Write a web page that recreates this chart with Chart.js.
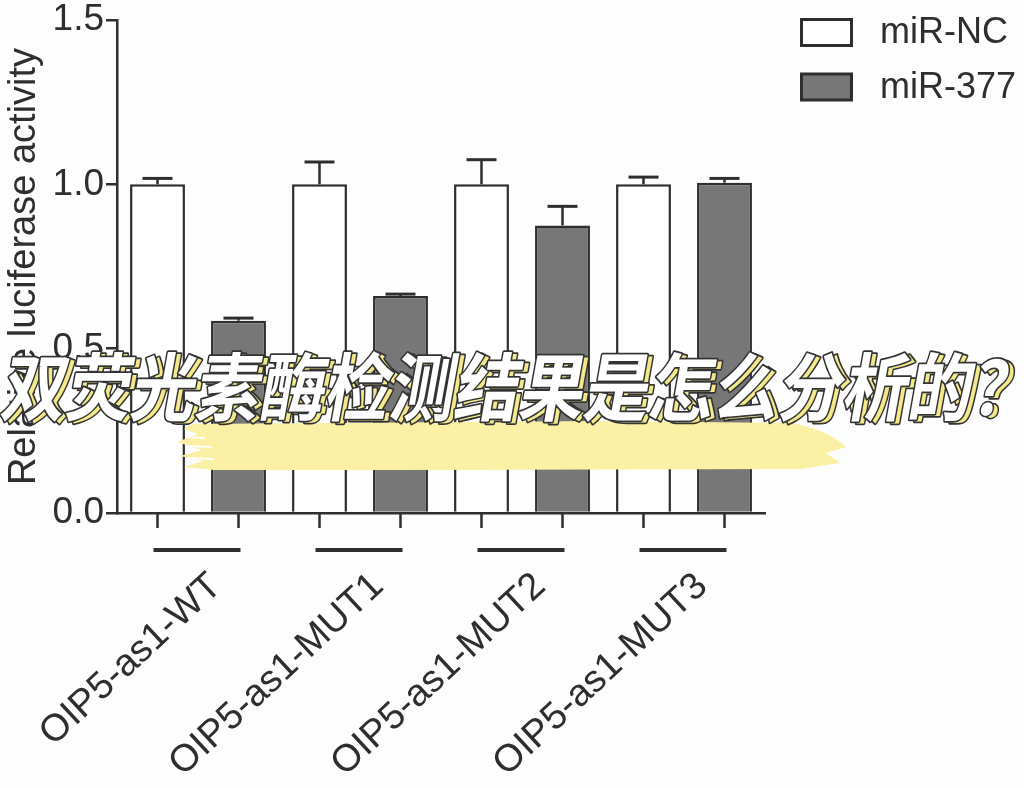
<!DOCTYPE html>
<html>
<head>
<meta charset="utf-8">
<script src="https://cdn.jsdelivr.net/npm/chart.js@4.4.1/dist/chart.umd.min.js"></script>
<style>
html,body{margin:0;padding:0;background:#fdfdfd;}
#wrap{width:1024px;height:788px;position:relative;overflow:hidden;}
canvas{display:block;}
</style>
</head>
<body>
<div id="wrap"><canvas id="c" width="1024" height="788"></canvas></div>
<script>
// ---- data ----
const groups = ['OIP5-as1-WT', 'OIP5-as1-MUT1', 'OIP5-as1-MUT2', 'OIP5-as1-MUT3'];
const seriesNames = ['miR-NC', 'miR-377'];
const ncValues = [1.0, 1.0, 1.0, 1.0];
const ncErrors = [0.018, 0.068, 0.075, 0.022];
const mirValues = [0.585, 0.66, 0.875, 1.005];
const mirErrors = [0.008, 0.006, 0.058, 0.013];
const yTicks = [0, 0.5, 1.0, 1.5];
const yTitle = 'Relative luciferase activity';
const overlayTitle = '双荧光素酶检测结果是怎么分析的？';

const INK = '#2e2e2e';
const GRAY = '#777777';
const FONT = '"Liberation Sans", Arial, Helvetica, sans-serif';

const bgPlugin = {
  id: 'bg',
  beforeDraw(chart) {
    const ctx = chart.ctx;
    ctx.save();
    ctx.fillStyle = '#fdfdfd';
    ctx.fillRect(0, 0, chart.width, chart.height);
    ctx.restore();
  }
};

const errorPlugin = {
  id: 'errs',
  afterDatasetsDraw(chart) {
    const ctx = chart.ctx;
    const y = chart.scales.y;
    const base = chart.chartArea.bottom;
    const errs = [ncErrors, mirErrors];
    ctx.save();
    ctx.strokeStyle = INK;
    ctx.lineCap = 'butt';
    chart.data.datasets.forEach((ds, di) => {
      const meta = chart.getDatasetMeta(di);
      meta.data.forEach((bar, i) => {
        const top = y.getPixelForValue(ds.data[i] + errs[di][i]);
        ctx.lineWidth = 2.5;
        ctx.beginPath();
        ctx.moveTo(bar.x, bar.y);
        ctx.lineTo(bar.x, top);
        ctx.stroke();
        ctx.lineWidth = 3;
        ctx.beginPath();
        ctx.moveTo(bar.x - 15, top);
        ctx.lineTo(bar.x + 15, top);
        ctx.stroke();
        // tick mark under each bar
        ctx.lineWidth = 2.5;
        ctx.beginPath();
        ctx.moveTo(bar.x, base);
        ctx.lineTo(bar.x, base + 15);
        ctx.stroke();
      });
    });
    // group underline
    const m0 = chart.getDatasetMeta(0), m1 = chart.getDatasetMeta(1);
    ctx.lineWidth = 4;
    m0.data.forEach((bar, i) => {
      ctx.beginPath();
      ctx.moveTo(bar.x - 4, base + 37);
      ctx.lineTo(m1.data[i].x + 2, base + 37);
      ctx.stroke();
    });
    ctx.restore();
  }
};

const legendPlugin = {
  id: 'customLegend',
  afterDraw(chart) {
    const ctx = chart.ctx;
    ctx.save();
    const rows = [{y: 19.5}, {y: 74}];
    chart.data.datasets.forEach((ds, i) => {
      const r = rows[i];
      ctx.fillStyle = ds.backgroundColor;
      ctx.strokeStyle = INK;
      ctx.lineWidth = 3;
      ctx.fillRect(801.5, r.y, 50, 26);
      ctx.strokeRect(801.5, r.y, 50, 26);
      ctx.fillStyle = INK;
      ctx.font = '36px ' + FONT;
      ctx.textBaseline = 'middle';
      ctx.textAlign = 'left';
      ctx.fillText(ds.label, 880, r.y + 14);
    });
    ctx.restore();
  }
};

const overlayPlugin = {
  id: 'overlay',
  afterDraw(chart) {
    const ctx = chart.ctx;
    ctx.save();
    // yellow brush stroke
    ctx.fillStyle = '#fbf0a4';
    ctx.beginPath();
    ctx.moveTo(192, 424);
    ctx.lineTo(600, 421);
    ctx.lineTo(792, 423);
    ctx.quadraticCurveTo(828, 430, 846, 447);
    ctx.lineTo(826, 453);
    ctx.lineTo(840, 463);
    ctx.lineTo(800, 469);
    ctx.lineTo(400, 470);
    ctx.lineTo(214, 470);
    ctx.lineTo(184, 467);
    ctx.lineTo(204, 461);
    ctx.lineTo(180, 456);
    ctx.lineTo(202, 450);
    ctx.lineTo(177, 442);
    ctx.lineTo(198, 434);
    ctx.lineTo(184, 429);
    ctx.closePath();
    ctx.fill();
    ctx.strokeStyle = 'rgba(255,255,255,0.9)';
    ctx.lineWidth = 2;
    [[186, 446, 212], [190, 458, 214], [188, 437, 205]].forEach(s => {
      ctx.beginPath(); ctx.moveTo(s[0], s[1]); ctx.lineTo(s[2], s[1] + 1); ctx.stroke();
    });
    // title text
    ctx.font = 'bold 74px "Noto Sans CJK SC", "Noto Sans CJK JP", sans-serif';
    ctx.textBaseline = 'middle';
    ctx.textAlign = 'left';
    ctx.lineJoin = 'round';
    const draw = (dx, dy, fill) => {
      ctx.setTransform(0.875, 0, -0.18, 1, 4 + dx, 387 + dy);
      ctx.lineWidth = 3.5;
      ctx.strokeStyle = '#333';
      ctx.strokeText(overlayTitle, 0, 0);
      ctx.fillStyle = fill;
      ctx.fillText(overlayTitle, 0, 0);
    };
    draw(5, 2, '#f3e98a');
    draw(0, 0, '#ffffff');
    ctx.restore();
  }
};

new Chart(document.getElementById('c'), {
  type: 'bar',
  data: {
    labels: groups,
    datasets: [
      {
        label: seriesNames[0],
        data: ncValues,
        backgroundColor: '#ffffff',
        borderColor: INK,
        borderWidth: 2.5,
        borderSkipped: 'start',
        barPercentage: 0.678,
        categoryPercentage: 1.0
      },
      {
        label: seriesNames[1],
        data: mirValues,
        backgroundColor: GRAY,
        borderColor: INK,
        borderWidth: 2.5,
        borderSkipped: 'start',
        barPercentage: 0.678,
        categoryPercentage: 1.0
      }
    ]
  },
  options: {
    responsive: false,
    animation: false,
    devicePixelRatio: 1,
    layout: { padding: { left: 0, top: 20, right: 259, bottom: 0 } },
    plugins: {
      legend: { display: false },
      tooltip: { enabled: false },
      title: { display: false }
    },
    scales: {
      x: {
        type: 'category',
        offset: true,
        grid: { display: false, drawTicks: false },
        border: { display: true, color: INK, width: 2.5 },
        ticks: {
          autoSkip: false,
          minRotation: 43,
          maxRotation: 43,
          padding: 51,
          labelOffset: 18,
          color: INK,
          font: { family: FONT, size: 38 }
        },
        afterFit(scale) { scale.height = 275; scale.paddingLeft = 0; scale.paddingRight = 0; }
      },
      y: {
        min: 0,
        max: 1.5,
        afterBuildTicks(scale) { scale.ticks = yTicks.map(v => ({ value: v })); },
        grid: { display: true, drawOnChartArea: false, drawTicks: true, tickLength: 11, color: INK, lineWidth: 2.5 },
        border: { display: true, color: INK, width: 2.5 },
        ticks: {
          padding: 2,
          color: INK,
          font: { family: FONT, size: 37 },
          callback: (v) => Number(v).toFixed(1)
        },
        title: {
          display: true,
          text: yTitle,
          color: INK,
          font: { family: FONT, size: 38 },
          padding: { top: 2, bottom: 0 }
        },
        afterFit(scale) { scale.width = 117; scale.paddingTop = 0; scale.paddingBottom = 0; }
      }
    }
  },
  plugins: [bgPlugin, errorPlugin, legendPlugin, overlayPlugin]
});
</script>
</body>
</html>
